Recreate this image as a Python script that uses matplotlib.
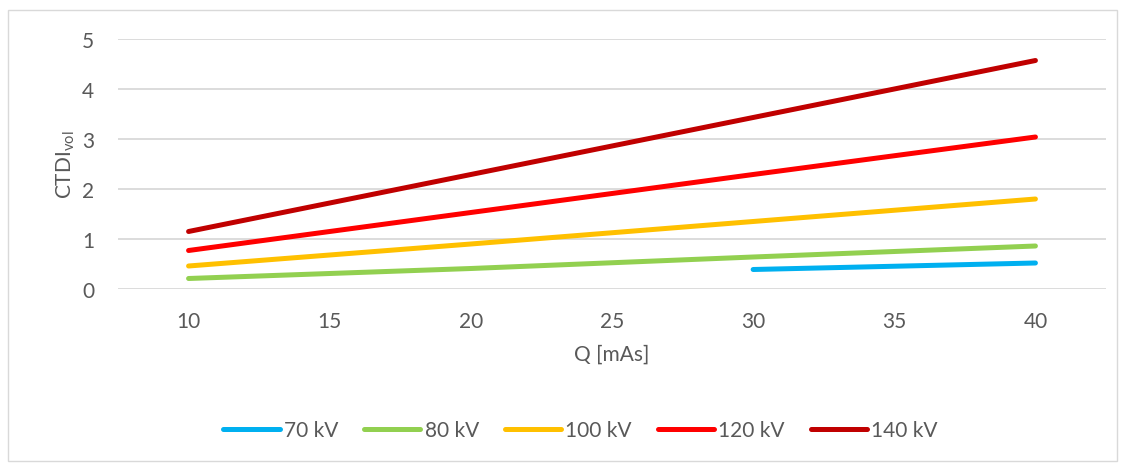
import matplotlib.pyplot as plt
from matplotlib.patches import Rectangle

plt.rcParams['font.family'] = ['Lato', 'DejaVu Sans']

# data
q_70 = [30, 40]
ctdi_70 = [0.39, 0.52]
q_all = [10, 20, 30, 40]
ctdi_80 = [0.21, 0.41, 0.64, 0.86]
ctdi_100 = [0.46, 0.90, 1.35, 1.80]
ctdi_120 = [0.77, 1.53, 2.29, 3.04]
ctdi_140 = [1.15, 2.29, 3.43, 4.57]

labels = ['70 kV', '80 kV', '100 kV', '120 kV', '140 kV']
colors = ['#00B0F0', '#92D050', '#FFC000', '#FF0000', '#C00000']
x_ticks = [10, 15, 20, 25, 30, 35, 40]
y_ticks = [0, 1, 2, 3, 4, 5]

grey = '#595959'

fig = plt.figure(figsize=(11.23, 4.64), dpi=100)
fig.patches.append(Rectangle((8 / 1123, 2 / 464), 1109 / 1123, 451 / 464,
                             transform=fig.transFigure, fill=False,
                             edgecolor='#D9D9D9', linewidth=1))

ax = fig.add_axes([118 / 1123, 1 - 290 / 464, (1106 - 118) / 1123, 250 / 464])

series = [(q_70, ctdi_70), (q_all, ctdi_80), (q_all, ctdi_100),
          (q_all, ctdi_120), (q_all, ctdi_140)]
for (x, y), lab, c in zip(series, labels, colors):
    ax.plot(x, y, color=c, lw=3.6, solid_capstyle='round', label=lab, zorder=3)

ax.set_xlim(7.5, 42.5)
ax.set_ylim(0, 5)
ax.set_xticks(x_ticks)
ax.set_yticks(y_ticks)
ax.grid(axis='y', color='#D9D9D9', lw=1.3, zorder=0)
ax.set_axisbelow(True)
for s in ax.spines.values():
    s.set_visible(False)
ax.tick_params(length=0, labelsize=15, labelcolor=grey)
ax.tick_params(axis='x', pad=16)
ax.tick_params(axis='y', pad=17)

ax.set_xlabel('Q [mAs]', fontsize=15, color=grey, labelpad=9)
ax.set_ylabel(r'CTDI$_{\mathregular{vol}}$', fontsize=15, color=grey, labelpad=4)

ax.legend(loc='center', bbox_to_anchor=(0.517, 0.071), bbox_transform=fig.transFigure,
          ncol=5, frameon=False, fontsize=15, labelcolor=grey,
          handlelength=2.7, handletextpad=0.2, columnspacing=1.25)

fig.savefig('out.png', dpi=100)
